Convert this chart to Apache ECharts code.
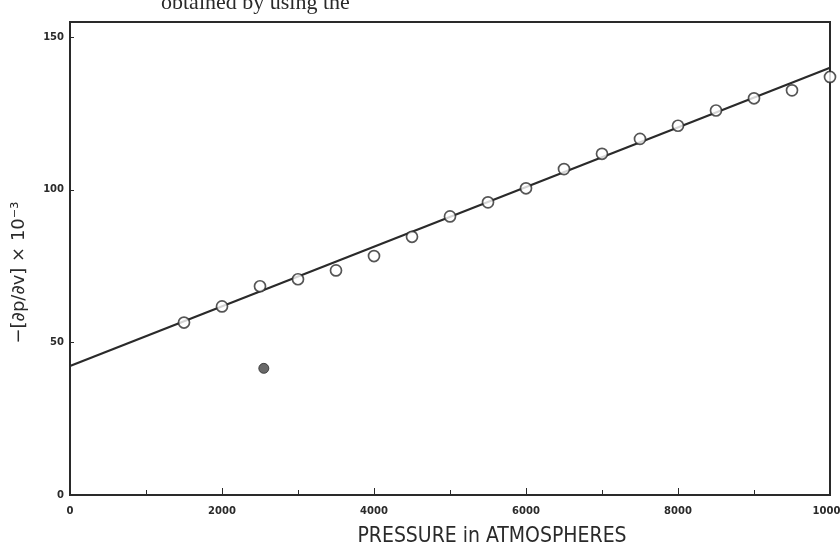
<!DOCTYPE html>
<html>
<head>
<meta charset="utf-8">
<script src="https://cdn.jsdelivr.net/npm/echarts@6/dist/echarts.min.js"></script>
<style>html,body{margin:0;padding:0;background:#fff}#c{width:840px;height:550px}</style>
</head>
<body>
<div id="c"></div>
<script>
// Data
const pressures = [1500, 2000, 2500, 3000, 3500, 4000, 4500, 5000, 5500, 6000, 6500, 7000, 7500, 8000, 8500, 9000, 9500, 10000];
const dpdv = [56.5, 61.8, 68.4, 70.7, 73.6, 78.3, 84.6, 91.3, 95.9, 100.5, 106.8, 111.8, 116.7, 121.0, 126.0, 130.0, 132.6, 137.0];
const outlierP = [2550];
const outlierV = [41.5];
const fitP = [0, 10000];
const fitV = [42.3, 140.0];
const xTicks = [0, 2000, 4000, 6000, 8000, 10000];
const yTicks = [0, 50, 100, 150];

const chart = echarts.init(document.getElementById('c'));
const ink = '#2a2a2a';
const labelFont = {color: ink, fontFamily: 'DejaVu Sans', fontWeight: 'bold', fontSize: 10};
chart.setOption({
  animation: false,
  backgroundColor: '#fff',
  title: {
    text: 'obtained by using the',
    left: 156, top: -13,
    textStyle: {fontFamily: 'Liberation Serif', fontWeight: 'normal', fontSize: 22, color: ink}
  },
  grid: {left: 70, right: 10, top: 22, bottom: 55, outerBoundsMode: 'none', containLabel: false,
    show: true, borderColor: ink, borderWidth: 2, backgroundColor: 'transparent'},
  xAxis: {
    type: 'value', min: 0, max: 10000, interval: 2000,
    name: 'PRESSURE in ATMOSPHERES', nameLocation: 'middle', nameGap: 31,
    nameTextStyle: {fontFamily: 'DejaVu Sans Condensed', fontSize: 21, color: ink, padding: [0, 0, 0, 84]},
    axisLine: {show: true, lineStyle: {color: ink, width: 2}},
    axisTick: {show: true, inside: true, length: 7, lineStyle: {color: ink, width: 1}},
    minorTick: {show: true, splitNumber: 2, length: 5, lineStyle: {color: ink, width: 1}},
    axisLabel: Object.assign({margin: 11, fontSize: 11,
      formatter: v => xTicks.includes(v) ? String(v) : ''}, labelFont),
    splitLine: {show: false}
  },
  yAxis: {
    type: 'value', min: 0, max: 155, interval: 50,
    name: '−[∂p/∂v] × 10⁻³', nameLocation: 'middle', nameGap: 42, nameRotate: 90,
    nameTextStyle: {fontFamily: 'DejaVu Sans', fontSize: 18, color: ink, padding: [0, 28, 0, 0]},
    axisLine: {show: true, lineStyle: {color: ink, width: 2}},
    axisTick: {show: true, inside: true, length: 4, lineStyle: {color: ink, width: 1}},
    axisLabel: Object.assign({margin: 6, showMaxLabel: false,
      formatter: v => yTicks.includes(v) ? String(v) : ''}, labelFont),
    splitLine: {show: false}
  },
  series: [
    {
      type: 'line', data: fitP.map((p, i) => [p, fitV[i]]),
      symbol: 'none', lineStyle: {color: ink, width: 2.2}, z: 2
    },
    {
      type: 'scatter', data: pressures.map((p, i) => [p, dpdv[i]]),
      symbol: 'circle', symbolSize: 11,
      itemStyle: {color: '#fff', borderColor: ink, borderWidth: 1.7}, z: 3
    },
    {
      type: 'scatter', data: outlierP.map((p, i) => [p, outlierV[i]]),
      symbol: 'circle', symbolSize: 10,
      itemStyle: {color: '#444', borderColor: ink, borderWidth: 1}, z: 3
    }
  ]
});
</script>
</body>
</html>
